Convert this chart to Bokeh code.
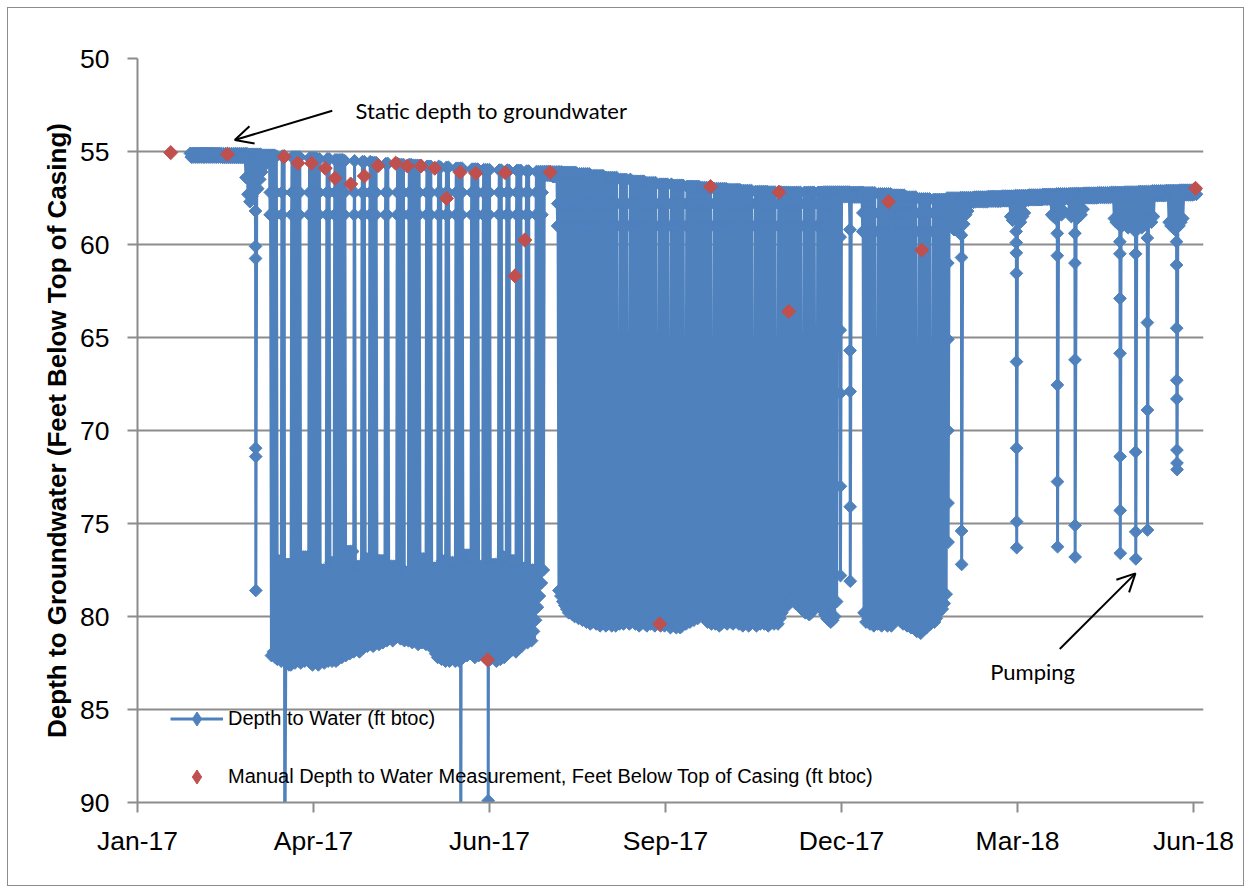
import numpy as np
import pandas as pd
from bokeh.plotting import figure
from bokeh.models import (Range1d, FixedTicker, DatetimeTickFormatter, Label, Arrow,
                          OpenHead, Legend, LegendItem, ColumnDataSource)
from bokeh.embed import file_html
from bokeh.resources import INLINE

# ---------------------------------------------------------------- data
ORIGIN = "2017-01-01"
logger_first_day = "2017-01-28"
logger_last_day = "2018-06-26"

# static (non-pumping) water level, one reading per week starting on this Monday
static_week0 = "2017-01-23"
static_top_weekly = [
    55.10, 55.10, 55.10, 55.12, 55.12, 55.15, 55.20, 55.25, 55.30, 55.35,
    55.40, 55.45, 55.50, 55.55, 55.60, 55.65, 55.70, 55.75, 55.80, 55.85,
    55.90, 55.95, 55.98, 56.00, 56.02, 56.05, 56.08, 56.10, 56.12, 56.20,
    56.30, 56.40, 56.50, 56.60, 56.68, 56.76, 56.82, 56.88, 56.94, 57.00,
    57.05, 57.10, 57.15, 57.18, 57.20, 57.20, 57.20, 57.18, 57.18, 57.20,
    57.22, 57.28, 57.35, 57.45, 57.55, 57.58, 57.50, 57.48, 57.45, 57.42,
    57.40, 57.37, 57.34, 57.31, 57.28, 57.26, 57.24, 57.22, 57.20, 57.18,
    57.15, 57.12, 57.10, 57.08, 57.05,
]
# daily fluctuation of the static level, Jan-17 .. Jun-18
static_swing_monthly = [0.20, 0.20, 0.20, 0.20, 0.20, 0.20, 0.20, 0.25, 0.25,
                        0.25, 0.25, 0.25, 0.25, 0.25, 0.25, 0.25, 0.25, 0.25]

# daily pumping lows (ft btoc) during the three production periods
pump1_start = "2017-03-10"
pump1_lows = [
    82.1, 81.9, 82.2, 82.3, 82.0, 82.4, 82.2, 82.5, 82.3, 82.6,
    82.6, 82.4, 82.5, 82.2, 82.4, 82.5, 82.3, 82.4, 82.1, 82.4,
    82.5, 82.6, 82.3, 82.5, 82.6, 82.4, 82.2, 82.5, 82.3, 82.4,
    82.1, 82.4, 82.2, 82.4, 82.3, 82.0, 82.2, 81.9, 82.1, 81.8,
    82.0, 81.7, 81.9, 81.8, 81.6, 81.9, 81.5, 81.7, 81.4, 81.6,
    81.3, 81.5, 81.6, 81.4, 81.2, 81.5, 81.3, 81.4, 81.1, 81.3,
    81.2, 81.0, 81.3, 80.9, 81.1, 80.9, 81.2, 81.0, 81.3, 81.1,
    81.3, 81.2, 81.4, 81.1, 81.3, 81.5, 81.2, 81.4, 81.3, 81.5,
    81.4, 81.3, 81.6, 81.8, 82.0, 82.2, 81.9, 82.3, 82.1, 82.4,
    82.2, 82.4, 82.3, 82.1, 82.4, 82.3, 82.4, 82.0, 82.2, 81.9,
    82.1, 81.8, 82.0, 81.9, 82.2, 81.8, 82.1, 81.9, 82.0, 82.2,
    81.9, 82.1, 82.3, 82.0, 82.2, 82.4, 82.1, 82.3, 82.0, 82.2,
    81.9, 82.0, 81.7, 81.8, 81.6, 81.9, 81.7, 81.4, 81.6, 81.3,
    81.2, 81.4, 81.1, 81.3, 80.8, 80.2, 79.5, 78.9, 78.2, 77.5,
]
pump2_start = "2017-08-04"
pump2_lows = [
    78.6, 78.9, 79.2, 79.4, 79.6, 79.8, 79.7, 79.9, 80.0, 79.9,
    80.1, 80.0, 80.2, 80.1, 80.3, 80.2, 80.4, 80.3, 80.2, 80.4,
    80.3, 80.5, 80.4, 80.3, 80.5, 80.4, 80.3, 80.5, 80.4, 80.5,
    80.3, 80.4, 80.2, 80.4, 80.3, 80.2, 80.4, 80.3, 80.1, 80.4,
    80.3, 80.5, 80.4, 80.2, 80.4, 80.5, 80.3, 80.4, 80.2, 80.5,
    80.4, 80.3, 80.5, 80.4, 80.5, 80.3, 80.4, 80.6, 80.4, 80.5,
    80.6, 80.4, 80.6, 80.5, 80.3, 80.4, 80.2, 80.3, 80.1, 80.2,
    80.0, 80.1, 79.9, 79.8, 79.9, 80.1, 80.3, 80.2, 80.4, 80.3,
    80.4, 80.3, 80.5, 80.4, 80.2, 80.3, 80.4, 80.2, 80.3, 80.4,
    80.3, 80.2, 80.4, 80.3, 80.5, 80.4, 80.3, 80.5, 80.4, 80.3,
    80.4, 80.5, 80.3, 80.4, 80.2, 80.4, 80.3, 80.5, 80.4, 80.3,
    80.4, 80.2, 80.4, 80.1, 79.8, 79.5, 79.3, 79.4, 79.2, 79.0,
    79.1, 79.3, 79.1, 79.4, 79.6, 79.5, 79.8, 79.7, 79.9, 79.8,
    79.6, 79.5, 79.4, 79.3, 79.5, 79.7, 79.9, 80.1, 80.2, 80.3,
    80.2, 80.0, 79.2,
]
pump3_start = "2018-01-07"
pump3_lows = [
    79.8, 80.3, 80.1, 80.4, 80.2, 80.5, 80.3, 80.4, 80.2, 80.5,
    80.3, 80.4, 80.5, 80.3, 80.5, 80.2, 80.0, 79.9, 80.1, 80.3,
    80.4, 80.2, 80.5, 80.4, 80.6, 80.5, 80.7, 80.8, 80.6, 80.9,
    80.7, 80.5, 80.6, 80.3, 80.4, 80.2, 80.3, 80.1, 79.8, 79.5,
    79.6, 79.3, 78.8,
]
# early-recovery readings logged just before the level returns to static (per period)
pump_recovery_readings = [[58.4, 57.2], [59.0, 57.8], [59.3, 58.3]]

# days of continuous pumping: level only recovered to these depths
continuous_pumping_start = [
    "2017-03-14", "2017-03-18", "2017-03-26", "2017-04-05", "2017-04-10", "2017-04-18",
    "2017-04-23", "2017-04-28", "2017-05-04", "2017-05-10", "2017-05-18", "2017-05-26",
    "2017-06-01", "2017-06-06", "2017-06-10", "2017-06-17", "2017-06-25", "2017-07-01",
    "2017-07-07", "2017-07-11", "2017-07-17", "2017-07-21",
    "2017-09-04", "2017-09-09", "2017-09-24", "2017-09-30", "2017-10-08", "2017-10-22",
    "2017-11-12", "2017-11-24", "2017-12-07", "2017-12-14",
    "2018-01-14", "2018-02-04", "2018-02-11"]
continuous_pumping_end = [
    "2017-03-15", "2017-03-20", "2017-03-29", "2017-04-07", "2017-04-11", "2017-04-21",
    "2017-04-25", "2017-04-29", "2017-05-07", "2017-05-13", "2017-05-19", "2017-05-28",
    "2017-06-03", "2017-06-07", "2017-06-12", "2017-06-20", "2017-06-26", "2017-07-04",
    "2017-07-08", "2017-07-13", "2017-07-18", "2017-07-23",
    "2017-09-04", "2017-09-09", "2017-09-24", "2017-09-30", "2017-10-08", "2017-10-22",
    "2017-11-12", "2017-11-24", "2017-12-07", "2017-12-14",
    "2018-01-14", "2018-02-04", "2018-02-11"]
continuous_pumping_high = [
    77.0, 77.2, 76.8, 77.5, 77.1, 76.5, 77.3, 76.9, 77.0, 77.3, 77.6, 76.9,
    77.4, 77.0, 77.1, 76.7, 77.3, 77.2, 76.8, 77.0, 77.4, 77.5,
    78.0, 77.7, 78.2, 77.9, 77.8, 78.1, 77.9, 78.0, 78.0, 77.8,
    78.1, 77.9, 78.0]

# short, shallow pumping cycles (daily low, ft btoc)
shallow_dates = ["2017-02-25", "2017-02-26", "2017-02-27", "2017-02-28", "2017-03-01",
                 "2017-03-03", "2017-03-04", "2017-03-05", "2017-03-06",
                 "2018-02-20", "2018-02-21", "2018-02-22", "2018-02-23", "2018-02-24",
                 "2018-02-25", "2018-02-27", "2018-02-28", "2018-03-01",
                 "2018-03-23", "2018-03-24", "2018-03-25", "2018-03-27", "2018-03-28",
                 "2018-03-29", "2018-03-30",
                 "2018-04-13", "2018-04-14", "2018-04-15", "2018-04-17", "2018-04-18", "2018-04-19",
                 "2018-04-22", "2018-04-23", "2018-04-24", "2018-04-26", "2018-04-27",
                 "2018-04-28", "2018-04-29",
                 "2018-05-15", "2018-05-16", "2018-05-17", "2018-05-19", "2018-05-20",
                 "2018-05-21", "2018-05-22", "2018-05-23", "2018-05-24", "2018-05-25",
                 "2018-05-27", "2018-05-28", "2018-05-29", "2018-05-30", "2018-05-31",
                 "2018-06-02", "2018-06-03", "2018-06-04",
                 "2018-06-12", "2018-06-13", "2018-06-14", "2018-06-15", "2018-06-17",
                 "2018-06-18", "2018-06-19"]
shallow_lows = [56.4, 57.3, 57.7, 57.4, 56.9,
                57.0, 56.5, 56.1, 55.8,
                59.0, 58.7, 59.2, 58.9, 59.3,
                58.6, 58.9, 58.4, 58.2,
                58.5, 58.7, 58.4, 58.6, 58.8,
                58.5, 58.3,
                58.4, 58.5, 58.6, 58.3, 58.4, 58.2,
                58.3, 58.5, 58.4, 58.6, 58.3,
                58.4, 58.1,
                58.6, 58.8, 58.9, 59.0, 58.7,
                58.9, 59.1, 58.8, 58.6, 58.9,
                59.0, 58.8, 59.1, 58.7, 58.9,
                58.6, 58.8, 58.5,
                58.8, 59.0, 58.9, 59.2, 59.0,
                58.8, 58.6]

# deep drawdowns: successive logger readings during the event (ft btoc)
drawdown_dates = ["2017-03-02", "2017-03-17", "2017-06-15", "2017-06-29", "2017-12-26",
                  "2017-12-31", "2018-02-19", "2018-02-26", "2018-03-26", "2018-04-16",
                  "2018-04-25", "2018-05-18", "2018-05-26", "2018-06-01", "2018-06-16"]
drawdown_readings = [
    [58.2, 60.1, 60.75, 70.95, 71.4, 78.6],
    [95.0],
    [95.0],
    [82.3, 89.9],
    [59.6, 64.6, 68.0, 73.0, 77.8],
    [59.2, 65.7, 67.9, 74.1, 78.1],
    [58.5, 61.0, 65.1, 70.0, 73.9, 76.0],
    [59.5, 60.7, 75.4, 77.2],
    [59.3, 59.9, 60.45, 61.55, 66.3, 70.95, 74.9, 76.3],
    [59.4, 60.6, 67.55, 72.75, 76.25],
    [59.4, 61.0, 66.2, 75.1, 76.8],
    [59.85, 60.5, 62.9, 65.85, 71.4, 74.3, 76.6],
    [59.3, 60.5, 71.15, 75.45, 76.9],
    [58.6, 59.65, 64.2, 68.9, 75.35],
    [59.85, 61.1, 64.5, 67.3, 68.3, 71.05, 71.75, 72.1],
]

# manual measurements
manual_dates = ["2017-01-18", "2017-02-16", "2017-03-17", "2017-03-24", "2017-03-31",
                "2017-04-07", "2017-04-12", "2017-04-20", "2017-04-27", "2017-05-04",
                "2017-05-13", "2017-05-19", "2017-05-26", "2017-06-02", "2017-06-08",
                "2017-06-15", "2017-06-23", "2017-06-29", "2017-07-08", "2017-07-13",
                "2017-07-18", "2017-07-31", "2017-09-25", "2017-10-21", "2017-11-25",
                "2017-11-30", "2018-01-20", "2018-02-06", "2018-06-26"]
manual_depths = [55.06, 55.15, 55.28, 55.63, 55.63, 55.90, 56.44, 56.75, 56.32, 55.76,
                 55.63, 55.78, 55.78, 55.90, 57.52, 56.12, 56.17, 82.33, 56.14, 61.69,
                 59.76, 56.12, 80.40, 56.89, 57.19, 63.60, 57.70, 60.30, 56.98]

x_tick_dates = ["2017-01-01", "2017-04-01", "2017-06-30", "2017-09-28",
                "2017-12-27", "2018-03-27", "2018-06-25"]
y_ticks = [50, 55, 60, 65, 70, 75, 80, 85, 90]

# ---------------------------------------------------------------- build logger series
org = pd.Timestamp(ORIGIN)


def dn(s):
    return (pd.Timestamp(s) - org).days


def ms(s):
    return pd.Timestamp(s).value / 1e6


lows, recov = {}, {}
for start, vals, rec in zip((pump1_start, pump2_start, pump3_start),
                            (pump1_lows, pump2_lows, pump3_lows), pump_recovery_readings):
    for i, v in enumerate(vals):
        lows[dn(start) + i] = v
        recov[dn(start) + i] = rec
highs = {}
for a, b, h in zip(continuous_pumping_start, continuous_pumping_end, continuous_pumping_high):
    for d in range(dn(a), dn(b) + 1):
        highs[d] = h
shallow = {dn(s): v for s, v in zip(shallow_dates, shallow_lows)}
deep = {dn(s): r for s, r in zip(drawdown_dates, drawdown_readings)}

w0 = dn(static_week0)
tt, yy = [], []
for d in range(dn(logger_first_day), dn(logger_last_day) + 1):
    top = static_top_weekly[min(max((d - w0) // 7, 0), len(static_top_weekly) - 1)]
    day = org + pd.Timedelta(days=d)
    swing = static_swing_monthly[(day.year - 2017) * 12 + day.month - 1]
    if d in deep:
        tt.append(d); yy.append(top)
        for k, v in enumerate(deep[d]):
            tt.append(d + 0.3 + 0.04 * k); yy.append(v)
    elif d in lows:
        if d in highs:
            tt.append(d); yy.append(highs[d])
        else:
            for k, r in enumerate(recov[d]):
                tt.append(d - 0.2 + 0.1 * k); yy.append(r)
            tt.append(d); yy.append(top)
        tt.append(d + 0.5); yy.append(lows[d])
    elif d in shallow:
        tt += [d, d + 0.5]; yy += [top, shallow[d]]
    else:
        tt += [d, d + 0.5]; yy += [top, top + swing]

t = (org + pd.to_timedelta(np.array(tt), unit="D")).values
logger = ColumnDataSource(dict(t=t, y=np.array(yy)))
manual = ColumnDataSource(dict(t=pd.to_datetime(manual_dates).values, y=manual_depths))
legend_only = ColumnDataSource(dict(t=[org.to_datetime64()], y=[np.nan]))

# ---------------------------------------------------------------- figure
BLUE = "#4F81BD"
RED = "#C0504D"
GRID = "#8c8c8c"
FONT = "Liberation Sans"

p = figure(width=1237, height=879, x_axis_type="datetime",
           x_range=Range1d(ms(ORIGIN), ms("2018-06-30 02:00")),
           y_range=Range1d(90, 50),
           output_backend="svg", toolbar_location=None,
           min_border_left=129, min_border_right=42,
           min_border_top=50, min_border_bottom=85)
p.outline_line_color = None
p.background_fill_color = "white"
p.border_fill_color = "white"

r_line = p.line("t", "y", source=logger, line_color=BLUE, line_width=3)
r_pts = p.scatter("t", "y", source=logger, marker="square", angle=np.pi / 4, size=9,
                  fill_color=BLUE, line_color=BLUE)
r_man = p.scatter("t", "y", source=manual, marker="square", angle=np.pi / 4, size=10,
                  fill_color=RED, line_color=RED)
# legend swatches (diamond glyphs, nothing plotted)
lg_blue = p.scatter("t", "y", source=legend_only, marker="diamond",
                    fill_color=BLUE, line_color=BLUE)
lg_red = p.scatter("t", "y", source=legend_only, marker="diamond",
                   fill_color=RED, line_color=RED)

# axes
p.xaxis.ticker = FixedTicker(ticks=[ms(s) for s in x_tick_dates])
fmt = "%b-%y"
p.xaxis.formatter = DatetimeTickFormatter(
    microseconds=fmt, milliseconds=fmt, seconds=fmt, minsec=fmt, minutes=fmt,
    hourmin=fmt, hours=fmt, days=fmt, months=fmt, years=fmt)
p.yaxis.ticker = FixedTicker(ticks=y_ticks)
for ax in (p.xaxis[0], p.yaxis[0]):
    ax.axis_line_color = GRID
    ax.axis_line_width = 2
    ax.major_tick_line_color = GRID
    ax.major_tick_line_width = 2
    ax.major_tick_out = 10
    ax.major_tick_in = 0
    ax.minor_tick_line_color = None
    ax.major_label_text_font = FONT
    ax.major_label_text_font_size = "26.5px"
    ax.major_label_text_color = "black"
p.xaxis.major_label_standoff = 13
p.yaxis.major_label_standoff = 18
p.yaxis.axis_label = "Depth to Groundwater (Feet Below Top of Casing)"
p.yaxis.axis_label_text_font = FONT
p.yaxis.axis_label_text_font_style = "bold"
p.yaxis.axis_label_text_font_size = "26px"
p.yaxis.axis_label_text_color = "black"
p.yaxis.axis_label_standoff = 5

p.xgrid.visible = False
p.ygrid.grid_line_color = GRID
p.ygrid.grid_line_width = 2

# legend
legend = Legend(items=[
    LegendItem(label="Depth to Water (ft btoc)", renderers=[r_line, lg_blue]),
    LegendItem(label="Manual Depth to Water Measurement, Feet Below Top of Casing (ft btoc)",
               renderers=[lg_red]),
], location=(33, 8), orientation="vertical")
legend.background_fill_alpha = 0
legend.border_line_alpha = 0
legend.padding = 0
legend.margin = 0
legend.spacing = 23
legend.glyph_width = 53
legend.glyph_height = 35
legend.label_standoff = 5
legend.label_text_font = FONT
legend.label_text_font_size = "20px"
legend.label_text_color = "black"
p.add_layout(legend)

# annotations
static_note = ("2017-04-22 12:00", 52.8)
static_arrow = (("2017-04-10 14:00", 52.81), ("2017-02-19 18:00", 54.38))
pump_note = ("2018-04-03 17:00", 82.98)
pump_arrow = (("2018-04-17 14:00", 81.75), ("2018-05-26 07:00", 77.68))

p.add_layout(Label(x=ms(static_note[0]), y=static_note[1], text="Static depth to groundwater",
                   text_font="Lato", text_font_size="22px", text_color="black",
                   text_baseline="middle", text_align="left"))
p.add_layout(Label(x=ms(pump_note[0]), y=pump_note[1], text="Pumping",
                   text_font="Lato", text_font_size="22px", text_color="black",
                   text_baseline="middle", text_align="center"))
for (a, b) in (static_arrow, pump_arrow):
    p.add_layout(Arrow(end=OpenHead(size=18, line_width=2, line_color="black"),
                       x_start=ms(a[0]), y_start=a[1], x_end=ms(b[0]), y_end=b[1],
                       line_width=2, line_color="black"))

p.styles = {"border": "1px solid #8c8c8c", "margin": "7px 0 0 7px"}

open("out.html", "w").write(file_html(p, INLINE))
